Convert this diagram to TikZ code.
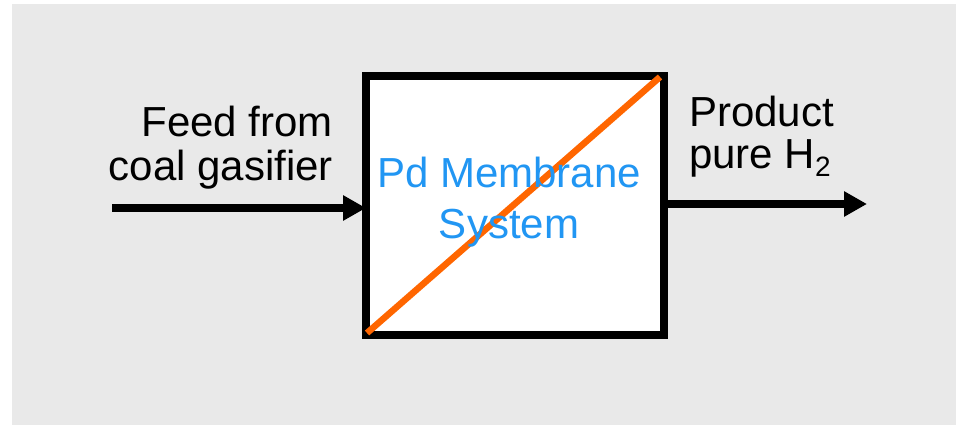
\documentclass[tikz,border=0pt]{standalone}
\usepackage{fontspec}
\setmainfont{Liberation Sans}
\usetikzlibrary{arrows.meta,calc}
\definecolor{bggray}{HTML}{E9E9E9}
\definecolor{membraneorange}{HTML}{FF6600}
\definecolor{labelblue}{HTML}{2196F3}
\begin{document}
\begin{tikzpicture}[x=1pt,y=-1pt,
  lbl/.style={inner sep=0pt,outer sep=0pt,font=\fontsize{42}{44}\selectfont},
  bluelbl/.style={lbl,text=labelblue},
  flow/.style={line width=7.5pt,-{Triangle[length=23pt,width=24pt]}},
  membox/.style={draw=black,fill=white,line width=7.5pt,outer sep=0pt,inner sep=0pt,
    minimum width=298pt,minimum height=259pt}]
\useasboundingbox (0,0) rectangle (956,425);
\fill[white] (0,0) rectangle (956,425);
\fill[bggray] (12,4) rectangle (956,425);
% membrane box
\node[membox] (mem) at (515,205.5) {};
\draw[membraneorange,line width=6.5pt]
  ([shift={(1pt,2pt)}]mem.south west) -- ([shift={(-4pt,-1pt)}]mem.north east);
\node[bluelbl,anchor=base] (pd) at (509,187) {Pd Membrane};
\node[bluelbl,anchor=base] (sys) at (509,238) {System};
% feed
\node[lbl,anchor=base east] (feed1) at (333,137) {Feed from};
\node[lbl,anchor=base east] (feed2) at (333,181) {coal gasifier};
\coordinate (in0) at (112,208);
\draw[flow] (in0) -- (in0 -| mem.west);
% product
\node[lbl,anchor=base west] (prod1) at (689,127) {Product};
\node[lbl,anchor=base west] (prod2) at (689,168) {pure H\raisebox{-9pt}{\fontsize{28}{28}\selectfont 2}};
\coordinate (out1) at (867,204);
\draw[flow] (out1 -| mem.east) -- (out1);
\end{tikzpicture}
\end{document}
